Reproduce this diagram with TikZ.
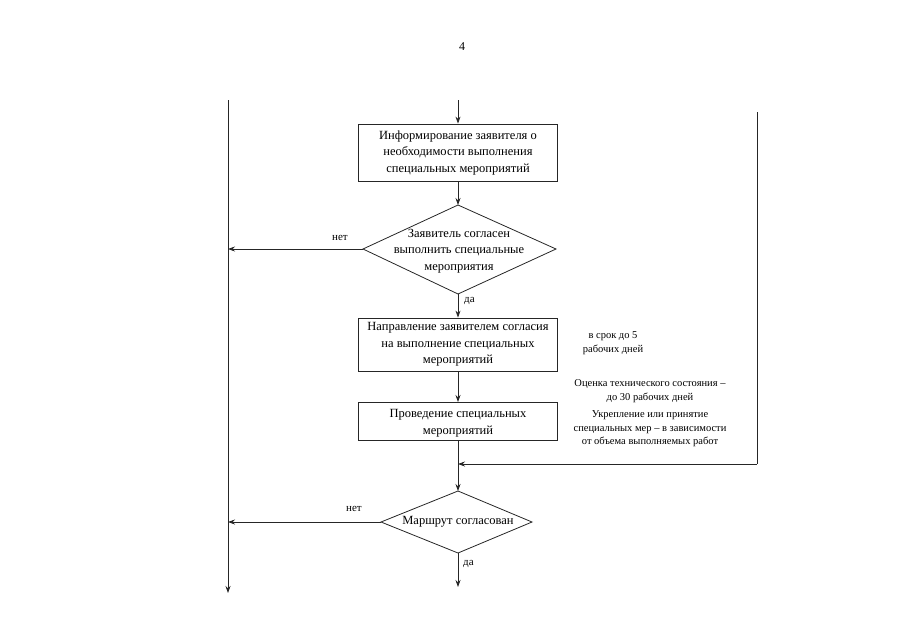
\documentclass[tikz,border=0pt]{standalone}
\usepackage{fontspec}
\setmainfont{Liberation Serif}
\usetikzlibrary{shapes.geometric,arrows.meta}
\begin{document}
\begin{tikzpicture}[x=1pt,y=-1pt,
  line/.style={draw=black!85,line width=0.8pt},
  arr/.style={line,-{Stealth[length=7pt,width=5pt]}},
  procbox/.style={draw=black!85,line width=0.8pt,minimum width=199pt,align=center,font=\fontsize{12.5}{16.5}\selectfont,inner sep=0pt},
  note/.style={align=center,font=\fontsize{10.5}{13.5}\selectfont,inner sep=0pt},
  lbl/.style={font=\fontsize{11}{13}\selectfont,inner sep=0pt}]
\useasboundingbox (0,0) rectangle (905,640);
\node[font=\fontsize{12}{14}\selectfont] (pg) at (462,47) {4};
% boxes
\node[procbox,minimum height=57pt] (b1) at (458,152.5) {Информирование заявителя о\\необходимости выполнения\\специальных мероприятий};
\draw[line] (363,249) -- (458,205) -- (556,249) -- (458,294) -- cycle;
\coordinate (d1l) at (363,249);
\coordinate (d1t) at (458,205);
\coordinate (d1b) at (458,294);
\node[align=center,font=\fontsize{12.5}{16.5}\selectfont] (d1txt) at (459,251) {Заявитель согласен\\выполнить специальные\\мероприятия};
\node[procbox,minimum height=53pt] (b2) at (458,344.5) {Направление заявителем согласия\\на выполнение специальных\\мероприятий};
\draw[line] (358,402) rectangle (557,440);
\coordinate (b3n) at (458,402);
\coordinate (b3s) at (458,440);
\node[align=center,font=\fontsize{12.5}{16.5}\selectfont] (b3) at (458,423) {Проведение специальных\\мероприятий};
\draw[line] (381,522) -- (458,491) -- (532,522) -- (458,553) -- cycle;
\coordinate (d2l) at (381,522);
\coordinate (d2t) at (458,491);
\coordinate (d2b) at (458,553);
\node[font=\fontsize{12.5}{16.5}\selectfont] (d2txt) at (458,522) {Маршрут согласован};
% side lines
\coordinate (ltop) at (228,100);
\coordinate (lbot) at (228,593);
\coordinate (lj1) at (228,249);
\coordinate (lj2) at (228,522);
\draw[arr] (ltop) -- (lbot);
\coordinate (top) at (458,100);
\draw[arr] (top) -- (b1.north);
\draw[arr] (b1.south) -- (d1t);
\draw[arr] (d1l) -- (lj1);
\node[lbl] (net1) at (340,238) {нет};
\draw[arr] (d1b) -- (b2.north);
\node[lbl,anchor=west] (da1) at (464,301) {да};
\draw[arr] (b2.south) -- (b3n);
\coordinate (rtop) at (757,112);
\coordinate (rbot) at (757,464);
\coordinate (mj) at (458,464);
\draw[line] (rtop) -- (rbot);
\draw[arr] (rbot) -- (mj);
\draw[arr] (b3s) -- (d2t);
\draw[arr] (d2l) -- (lj2);
\node[lbl] (net2) at (354,509) {нет};
\coordinate (bot) at (458,587);
\draw[arr] (d2b) -- (bot);
\node[lbl,anchor=west] (da2) at (463,564) {да};
% notes
\node[note] (n1) at (613,343) {в срок до 5\\рабочих дней};
\node[note] (n2) at (650,391) {Оценка технического состояния –\\до 30 рабочих дней};
\node[note] (n3) at (650,429) {Укрепление или принятие\\специальных мер – в зависимости\\от объема выполняемых работ};
\end{tikzpicture}
\end{document}
